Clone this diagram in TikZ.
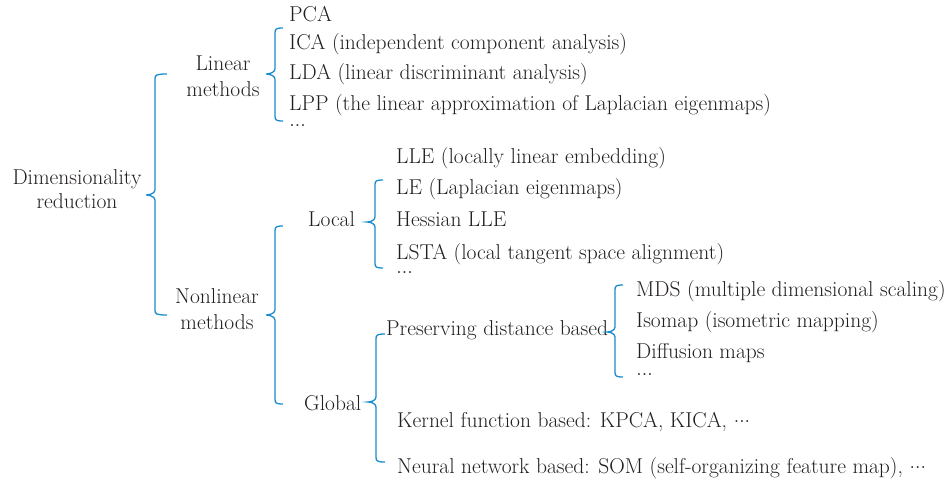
\documentclass[tikz,border=0pt]{standalone}
\definecolor{brc}{RGB}{25,140,205}
\definecolor{txt}{RGB}{35,31,32}
\newcommand\mybrace[6]{%
  \draw[bracestyle] (#6,#2) .. controls (#1+1,#2) and (#1,#2+1) .. (#1,#2+5)
    -- (#1,#4-5) .. controls (#1,#4-1) and (#5+2,#4) .. (#5,#4)
    .. controls (#5+2,#4) and (#1,#4+1) .. (#1,#4+5)
    -- (#1,#3-5) .. controls (#1,#3-1) and (#1+1,#3) .. (#6,#3);}
\newcommand\tdots{\raisebox{0.2em}{\scalebox{1.1}{.\kern-0.02em.\kern-0.02em.}}}
\begin{document}
\begin{tikzpicture}[x=1pt,y=-1pt,
  bracestyle/.style={draw=brc,line width=1.3pt},
  lab/.style={text=txt,font=\fontsize{21.5}{26}\selectfont,inner sep=0pt,anchor=base west},
  clab/.style={text=txt,font=\fontsize{21.5}{26}\selectfont,inner sep=0pt,align=center}]
\useasboundingbox (0,0) rectangle (950,481);
\node[clab,font=\fontsize{21.5}{24}\selectfont] (dr) at (77,189.5) {Dimensionality\\reduction};
\node[clab] (lin) at (223,76.5) {Linear\\methods};
\node[clab] (nonlin) at (217,309.5) {Nonlinear\\methods};
\node[lab] (pca) at (289,22) {PCA};
\node[lab] (ica) at (289,50) {ICA (independent component analysis)};
\node[lab] (lda) at (289,80) {LDA (linear discriminant analysis)};
\node[lab] (lpp) at (289,111) {LPP (the linear approximation of Laplacian eigenmaps)};
\node[lab] (ld1) at (289,131) {\tdots};
\node[lab] (local) at (308,226) {Local};
\node[lab] (lle) at (396,164) {LLE (locally linear embedding)};
\node[lab] (le) at (396,195) {LE (Laplacian eigenmaps)};
\node[lab] (hlle) at (396,226) {Hessian LLE};
\node[lab] (lsta) at (396,259) {LSTA (local tangent space alignment)};
\node[lab] (ld2) at (396,278) {\tdots};
\node[lab] (global) at (304,410) {Global};
\node[lab] (pdb) at (386,335) {Preserving distance based};
\node[lab] (mds) at (636,296) {MDS (multiple dimensional scaling)};
\node[lab] (iso) at (636,327) {Isomap (isometric mapping)};
\node[lab] (dif) at (636,358) {Diffusion maps};
\node[lab] (ld3) at (636,380) {\tdots};
\node[lab] (kern) at (397,427) {Kernel function based: KPCA, KICA, \tdots};
\node[lab] (nn) at (397,473) {Neural network based: SOM (self-organizing feature map), \tdots};
\mybrace{155}{74}{315}{195}{146}{167}
\mybrace{275}{28}{121}{74}{266}{283}
\mybrace{275}{226}{404}{315}{266}{283}
\mybrace{375}{180}{268}{222}{367}{383}
\mybrace{376}{334}{462}{402}{368}{385}
\mybrace{615}{285}{377}{332}{607}{623}
\end{tikzpicture}
\end{document}
